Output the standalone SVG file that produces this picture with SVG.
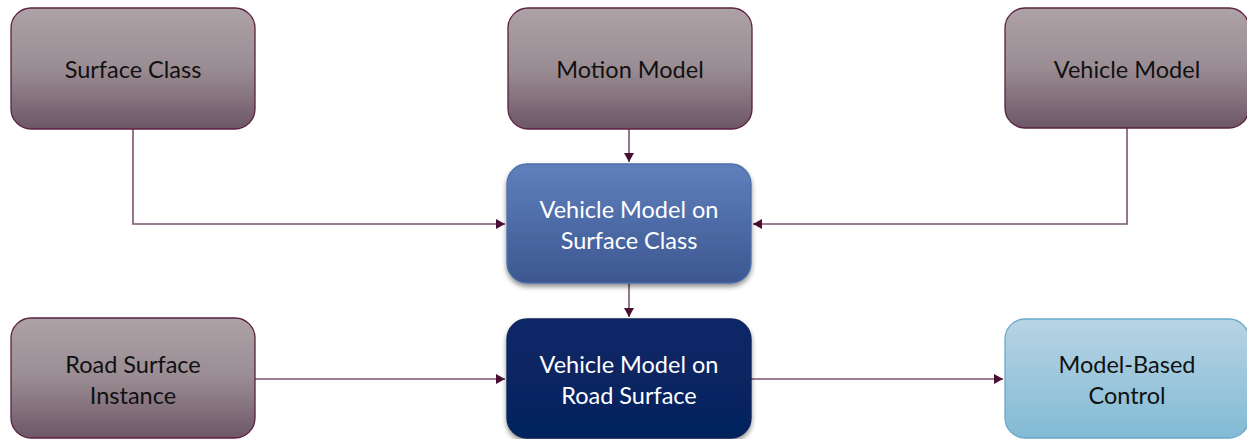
<svg xmlns="http://www.w3.org/2000/svg" width="1247" height="439" viewBox="0 0 1247 439">
<defs>
<linearGradient id="gGray" x1="0" y1="0" x2="0" y2="1">
<stop offset="0" stop-color="#ada2a6"/>
<stop offset="0.5" stop-color="#9a8c93"/>
<stop offset="1" stop-color="#6d5766"/>
</linearGradient>
<linearGradient id="gBlue" x1="0" y1="0" x2="0" y2="1">
<stop offset="0" stop-color="#5f80bd"/>
<stop offset="1" stop-color="#3c5790"/>
</linearGradient>
<linearGradient id="gNavy" x1="0" y1="0" x2="0" y2="1">
<stop offset="0" stop-color="#082868"/>
<stop offset="1" stop-color="#06225c"/>
</linearGradient>
<linearGradient id="gLight" x1="0" y1="0" x2="0" y2="1">
<stop offset="0" stop-color="#b8d4e4"/>
<stop offset="1" stop-color="#82bad5"/>
</linearGradient>
<filter id="sh" x="-10%" y="-10%" width="120%" height="130%">
<feDropShadow dx="0" dy="3" stdDeviation="2.5" flood-color="#000" flood-opacity="0.45"/>
</filter>
<marker id="arr" markerWidth="10" markerHeight="10" refX="9" refY="5" orient="auto" markerUnits="userSpaceOnUse">
<path d="M0,0 L9,5 L0,10 z" fill="#4a0e32"/>
</marker>
</defs>
<style>
.gray{fill:url(#gGray);stroke:#5c1f40;stroke-width:1.3}
.blue{fill:url(#gBlue);stroke:#4d6eab;stroke-width:1.3}
.navy{fill:url(#gNavy);stroke:#0a2458;stroke-width:1.3}
.light{fill:url(#gLight);stroke:#6aa9c9;stroke-width:1.3}
.t{font-family:Lato,"Open Sans","Liberation Sans",sans-serif;font-size:23.5px;text-anchor:middle}
.dk{fill:#111}
.wh{fill:#fff}
.c{fill:none;stroke:#7a5472;stroke-width:1.6}
</style>
<g id="connectors">
<path class="c" d="M133,129 V224 H505" marker-end="url(#arr)"/>
<path class="c" d="M629,129 V162" marker-end="url(#arr)"/>
<path class="c" d="M1127,128 V224 H753" marker-end="url(#arr)"/>
<path class="c" d="M629,283 V317" marker-end="url(#arr)"/>
<path class="c" d="M255,379 H505" marker-end="url(#arr)"/>
<path class="c" d="M751,379 H1003" marker-end="url(#arr)"/>
</g>
<g id="surface-class">
<rect class="gray" x="11" y="8" width="244" height="121" rx="20"/>
<text class="t dk" x="133" y="78">Surface Class</text>
</g>
<g id="motion-model">
<rect class="gray" x="508" y="8" width="244" height="121" rx="20"/>
<text class="t dk" x="630" y="78">Motion Model</text>
</g>
<g id="vehicle-model">
<rect class="gray" x="1005" y="8" width="244" height="120" rx="20"/>
<text class="t dk" x="1127" y="78">Vehicle Model</text>
</g>
<g id="vm-surface-class">
<rect class="blue" x="507" y="164" width="244" height="119" rx="20" filter="url(#sh)"/>
<text class="t wh" x="629" y="218">Vehicle Model on</text>
<text class="t wh" x="629" y="249">Surface Class</text>
</g>
<g id="road-surface-instance">
<rect class="gray" x="11" y="318" width="244" height="120" rx="20"/>
<text class="t dk" x="133" y="373">Road Surface</text>
<text class="t dk" x="133" y="404">Instance</text>
</g>
<g id="vm-road-surface">
<rect class="navy" x="507" y="319" width="244" height="119" rx="20" filter="url(#sh)"/>
<text class="t wh" x="629" y="373">Vehicle Model on</text>
<text class="t wh" x="629" y="404">Road Surface</text>
</g>
<g id="model-based-control">
<rect class="light" x="1005" y="319" width="244" height="119" rx="20"/>
<text class="t dk" x="1127" y="373">Model-Based</text>
<text class="t dk" x="1127" y="404">Control</text>
</g>
</svg>
